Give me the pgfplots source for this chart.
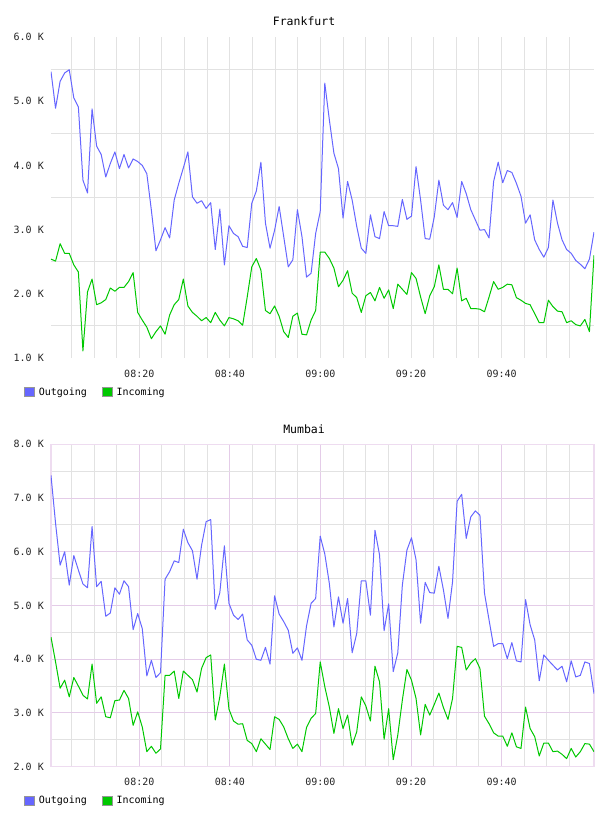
\documentclass[border=0pt]{standalone}
\usepackage{fontspec}
\setmainfont{DejaVu Sans Mono}
\usepackage{pgfplots}
\usepackage{pgfplotstable}
\pgfplotsset{compat=1.18}

\definecolor{outcol}{RGB}{102,102,255}
\definecolor{incol}{RGB}{0,200,0}
\definecolor{gridgray}{RGB}{226,226,226}
\definecolor{gridpink}{RGB}{228,204,232}
\definecolor{framepink}{RGB}{238,220,240}
\definecolor{keyborder}{RGB}{150,150,150}

% one sample per minute, 08:00 to 10:00, values in thousands
\pgfplotstableread{
out  in
5.46 2.54
4.89 2.51
5.31 2.78
5.44 2.63
5.49 2.63
5.05 2.45
4.91 2.34
3.77 1.11
3.57 2.03
4.88 2.23
4.30 1.83
4.17 1.86
3.82 1.91
4.03 2.09
4.21 2.04
3.95 2.10
4.17 2.10
3.96 2.19
4.10 2.33
4.06 1.71
4.00 1.59
3.87 1.48
3.30 1.30
2.67 1.41
2.84 1.50
3.03 1.37
2.87 1.67
3.46 1.83
3.72 1.91
3.96 2.23
4.21 1.81
3.51 1.71
3.41 1.65
3.45 1.58
3.33 1.63
3.42 1.55
2.69 1.71
3.32 1.59
2.45 1.50
3.06 1.63
2.94 1.61
2.89 1.58
2.74 1.51
2.72 1.95
3.41 2.42
3.60 2.55
4.05 2.37
3.10 1.74
2.71 1.69
2.99 1.81
3.36 1.65
2.89 1.41
2.42 1.32
2.53 1.65
3.31 1.70
2.89 1.37
2.26 1.36
2.32 1.59
2.94 1.74
3.28 2.65
5.28 2.65
4.71 2.55
4.19 2.40
3.95 2.11
3.18 2.21
3.75 2.36
3.46 2.01
3.05 1.94
2.71 1.71
2.63 1.97
3.23 2.02
2.89 1.89
2.86 2.10
3.28 1.93
3.06 2.06
3.06 1.77
3.05 2.15
3.47 2.07
3.16 1.99
3.21 2.33
3.98 2.24
3.46 1.95
2.86 1.69
2.85 1.97
3.20 2.11
3.77 2.45
3.38 2.07
3.31 2.07
3.42 2.00
3.19 2.40
3.75 1.89
3.56 1.93
3.31 1.77
3.15 1.77
2.99 1.76
3.00 1.72
2.87 1.95
3.75 2.19
4.05 2.07
3.73 2.10
3.92 2.15
3.89 2.14
3.72 1.94
3.52 1.90
3.10 1.85
3.23 1.83
2.84 1.69
2.69 1.55
2.57 1.55
2.72 1.90
3.46 1.80
3.10 1.73
2.84 1.72
2.69 1.55
2.63 1.58
2.52 1.52
2.46 1.50
2.39 1.60
2.54 1.41
2.96 2.60
}\frankfurt

\pgfplotstableread{
out  in
7.42 4.41
6.53 3.95
5.75 3.46
6.00 3.61
5.38 3.30
5.93 3.66
5.66 3.50
5.40 3.33
5.33 3.26
6.47 3.91
5.35 3.18
5.45 3.30
4.80 2.93
4.86 2.91
5.33 3.23
5.21 3.24
5.46 3.42
5.35 3.27
4.55 2.77
4.85 3.02
4.57 2.74
3.69 2.28
3.98 2.38
3.66 2.25
3.75 2.33
5.49 3.70
5.63 3.70
5.83 3.78
5.80 3.27
6.42 3.78
6.17 3.70
6.02 3.62
5.49 3.39
6.12 3.83
6.56 4.03
6.60 4.08
4.93 2.87
5.24 3.30
6.11 3.91
5.04 3.07
4.82 2.85
4.74 2.79
4.84 2.80
4.36 2.49
4.26 2.43
4.00 2.28
3.98 2.52
4.22 2.42
3.91 2.32
5.18 2.93
4.84 2.88
4.70 2.74
4.54 2.52
4.11 2.34
4.21 2.42
3.98 2.28
4.62 2.73
5.04 2.90
5.13 2.99
6.29 3.95
5.96 3.49
5.41 3.11
4.60 2.62
5.16 3.08
4.67 2.71
5.13 2.96
4.12 2.40
4.48 2.65
5.46 3.30
5.46 3.13
4.82 2.85
6.40 3.87
5.94 3.58
4.53 2.51
5.03 3.08
3.77 2.13
4.12 2.59
5.38 3.24
6.03 3.81
6.26 3.61
5.85 3.27
4.67 2.59
5.43 3.16
5.24 2.96
5.23 3.16
5.73 3.37
5.29 3.10
4.76 2.88
5.44 3.27
6.94 4.24
7.07 4.22
6.25 3.80
6.65 3.93
6.76 4.01
6.68 3.83
5.23 2.94
4.73 2.80
4.24 2.63
4.29 2.57
4.29 2.57
4.01 2.38
4.31 2.63
3.97 2.37
3.95 2.34
5.11 3.11
4.64 2.71
4.36 2.56
3.60 2.20
4.08 2.44
3.98 2.44
3.89 2.28
3.80 2.29
3.87 2.23
3.58 2.15
3.97 2.34
3.67 2.18
3.70 2.28
3.95 2.43
3.92 2.42
3.36 2.28
}\mumbai

\pgfplotsset{
  traffic/.style={
    scale only axis, width=543pt, anchor=south west,
    xmin=0, xmax=119,
    xtick={19.35,39.2,59.05,78.9,98.75},
    xticklabels={08:20,08:40,09:00,09:20,09:40},
    major tick length=0pt, minor tick length=0pt,
    tick label style={font=\fontsize{10}{12}\selectfont, text=black!85},
    xticklabel style={inner sep=0pt, anchor=north, yshift=-11.5pt},
    yticklabel style={inner sep=0pt, anchor=east, xshift=-7pt},
    title style={at={(0.466,1)}, anchor=base, yshift=5pt, inner sep=0pt,
      font=\fontsize{11.5}{13}\selectfont},
    legend columns=2,
    legend cell align=left,
    legend style={draw=none, fill=none, inner sep=0pt,
      at={(axis description cs:-0.0497,-0.106)}, anchor=west,
      font=\fontsize{10}{12}\selectfont,
      nodes={inner sep=0pt},
      /tikz/every odd column/.append style={column sep=4pt},
      /tikz/every even column/.append style={column sep=15pt}},
    xmajorgrids, xminorgrids, yminorgrids,
    minor grid style={gridgray, line width=1pt},
  },
  keybox/.style={legend image code/.code={%
    \draw[fill=#1, draw=keyborder, line width=1pt] (0pt,-4.8pt) rectangle (9.6pt,4.8pt);}},
}

\begin{document}
\begin{tikzpicture}
\useasboundingbox (0,0) rectangle (608pt,816pt);

% Frankfurt
\begin{axis}[traffic,
  at={(51pt,458pt)}, height=321pt,
  title={Frankfurt},
  ymin=1, ymax=6,
  ytick={1,2,3,4,5,6},
  yticklabels={1.0 K,2.0 K,3.0 K,4.0 K,5.0 K,6.0 K},
  minor ytick={1.5,2.5,3.5,4.5,5.5},
  minor xtick={4.46,9.43,14.39,24.31,29.28,34.24,44.16,49.13,54.09,64.01,68.98,73.94,83.86,88.83,93.79,103.71,108.68,113.64},
  major grid style={gridgray, line width=1pt},
  axis line style={draw=none},
]
\addlegendimage{keybox=outcol}
\addlegendentry{Outgoing}
\addlegendimage{keybox=incol}
\addlegendentry{Incoming}
\addplot[outcol, line width=1pt, line join=round, forget plot] table[x expr=\coordindex, y=out] {\frankfurt};
\addplot[incol, line width=1pt, line join=round, forget plot] table[x expr=\coordindex, y=in] {\frankfurt};
\end{axis}

% Mumbai
\begin{axis}[traffic,
  at={(51pt,49.3pt)}, height=322.4pt,
  title={Mumbai},
  ymin=2, ymax=8,
  ytick={2,3,4,5,6,7,8},
  yticklabels={2.0 K,3.0 K,4.0 K,5.0 K,6.0 K,7.0 K,8.0 K},
  minor ytick={2.5,3.5,4.5,5.5,6.5,7.5},
  minor xtick={4.46,9.43,14.39,24.31,29.28,34.24,44.16,49.13,54.09,64.01,68.98,73.94,83.86,88.83,93.79,103.71,108.68,113.64},
  ymajorgrids,
  major grid style={gridpink, line width=1pt},
  axis line style={framepink, line width=1.5pt},
]
\addlegendimage{keybox=outcol}
\addlegendentry{Outgoing}
\addlegendimage{keybox=incol}
\addlegendentry{Incoming}
\addplot[outcol, line width=1pt, line join=round, forget plot] table[x expr=\coordindex, y=out] {\mumbai};
\addplot[incol, line width=1pt, line join=round, forget plot] table[x expr=\coordindex, y=in] {\mumbai};
\end{axis}
\end{tikzpicture}
\end{document}
